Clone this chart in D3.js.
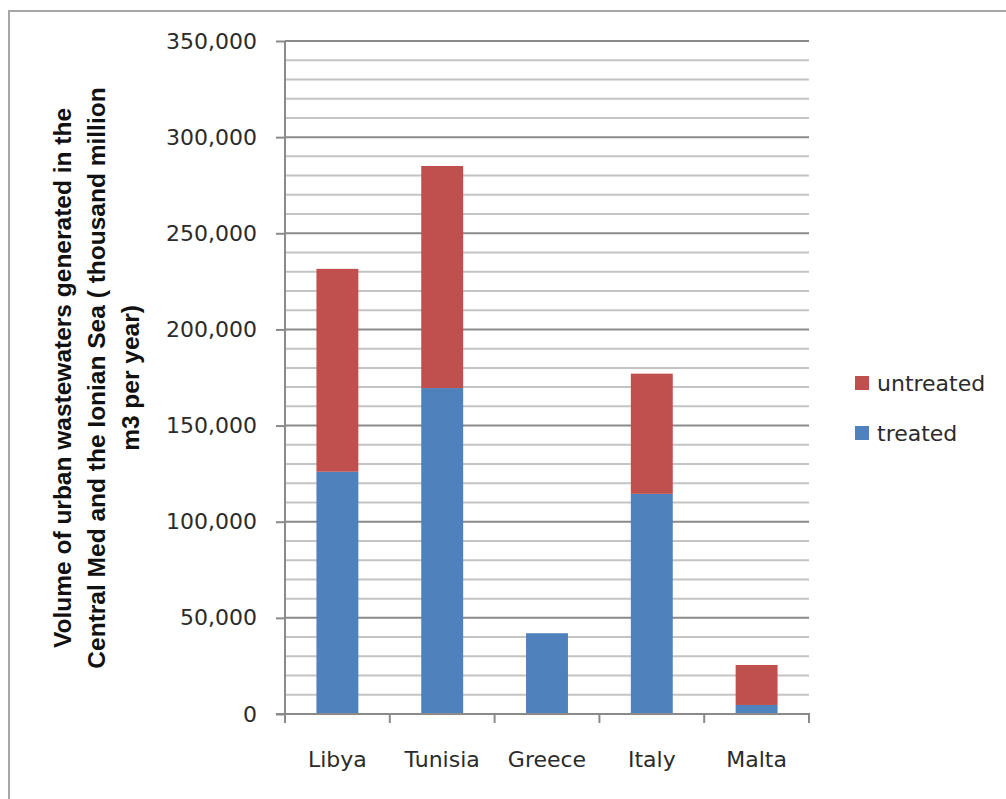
<!DOCTYPE html>
<html>
<head>
<meta charset="utf-8">
<script src="https://cdn.jsdelivr.net/npm/d3@7"></script>
<style>
  html, body { margin: 0; padding: 0; background: #fff; }
  svg { display: block; }
</style>
</head>
<body>
<svg id="chart" width="1006" height="799"></svg>
<script>
// Urban wastewater volumes by country (thousand million m3 per year)
const countries = ["Libya", "Tunisia", "Greece", "Italy", "Malta"];
const treated   = [126000, 169500, 42000, 114500, 4700];
const untreated = [105500, 115500, 0, 62500, 20800];
const seriesNames = ["treated", "untreated"];
const seriesColors = ["#4F81BD", "#C0504D"];
const yTicks = [0, 50000, 100000, 150000, 200000, 250000, 300000, 350000];
const titleLines = [
  "Volume of urban wastewaters generated in the",
  "Central Med and the Ionian Sea ( thousand million",
  "m3 per year)"
];

const svg = d3.select("#chart");
const font = "'DejaVu Sans', Verdana, sans-serif";
const labelSize = 22;

// outer chart frame
svg.append("rect")
  .attr("x", 9).attr("y", 11)
  .attr("width", 1200).attr("height", 1000)
  .attr("fill", "none").attr("stroke", "#a6a6a6").attr("stroke-width", 2);

const plot = { left: 285, right: 809, top: 41, bottom: 714 };

const y = d3.scaleLinear().domain([0, 350000]).range([plot.bottom, plot.top]);
const x = d3.scaleBand().domain(countries)
  .range([plot.left, plot.right]).paddingInner(0.6).paddingOuter(0.3);

// minor gridlines every 10,000
const minor = d3.range(10000, 350001, 10000).filter(v => v % 50000 !== 0);
svg.append("g").selectAll("line").data(minor).join("line")
  .attr("x1", plot.left).attr("x2", plot.right)
  .attr("y1", d => y(d)).attr("y2", d => y(d))
  .attr("stroke", "#c4c4c4").attr("stroke-width", 2);

// major gridlines with left ticks
const yAxis = d3.axisLeft(y).tickValues(yTicks)
  .tickFormat(d3.format(",")).tickSize(9).tickPadding(19);
const yg = svg.append("g").attr("transform", `translate(${plot.left},0)`).call(yAxis);
yg.select(".domain").remove();
yg.selectAll(".tick line").attr("stroke", "#8a8a8a").attr("stroke-width", 2);
yg.selectAll(".tick text")
  .attr("font-family", font).attr("font-size", labelSize).attr("fill", "#2b2b2b");
svg.append("g").selectAll("line").data(yTicks.filter(v => v > 0)).join("line")
  .attr("x1", plot.left).attr("x2", plot.right)
  .attr("y1", d => y(d)).attr("y2", d => y(d))
  .attr("stroke", "#8a8a8a").attr("stroke-width", 2);

// stacked bars
const rows = countries.map((c, i) => ({ country: c, treated: treated[i], untreated: untreated[i] }));
const stack = d3.stack().keys(seriesNames)(rows);
svg.append("g").selectAll("g").data(stack).join("g")
  .attr("fill", (d, i) => seriesColors[i])
  .selectAll("rect").data(d => d.filter(p => p[1] > p[0])).join("rect")
  .attr("x", d => x(d.data.country))
  .attr("width", x.bandwidth())
  .attr("y", d => y(d[1]))
  .attr("height", d => y(d[0]) - y(d[1]));

// vertical axis line
svg.append("line")
  .attr("x1", plot.left).attr("x2", plot.left)
  .attr("y1", plot.top).attr("y2", plot.bottom + 1)
  .attr("stroke", "#8a8a8a").attr("stroke-width", 2);

// category axis with ticks between categories
svg.append("line")
  .attr("x1", plot.left - 9).attr("x2", plot.right + 1)
  .attr("y1", plot.bottom).attr("y2", plot.bottom)
  .attr("stroke", "#8a8a8a").attr("stroke-width", 2);
const bounds = countries.map(c => x(c) - x.step() * x.paddingInner() / 2);
bounds.push(plot.right);
svg.append("g").selectAll("line").data(bounds).join("line")
  .attr("x1", d => d).attr("x2", d => d)
  .attr("y1", plot.bottom).attr("y2", plot.bottom + 9)
  .attr("stroke", "#8a8a8a").attr("stroke-width", 2);
svg.append("g").selectAll("text").data(countries).join("text")
  .attr("x", d => x(d) + x.bandwidth() / 2)
  .attr("y", 767)
  .attr("text-anchor", "middle")
  .attr("font-family", font).attr("font-size", labelSize).attr("fill", "#2b2b2b")
  .text(d => d);

// rotated axis title
const title = svg.append("text")
  .attr("transform", "translate(63,378) rotate(-90)")
  .attr("text-anchor", "middle")
  .attr("font-family", "'Liberation Sans', Arial, sans-serif")
  .attr("font-weight", "bold").attr("font-size", 24.5).attr("fill", "#111");
titleLines.forEach((t, i) => {
  title.append("tspan").attr("x", 0).attr("y", 8 + i * 34).text(t);
});

// legend (untreated listed first)
const legendItems = [
  { name: "untreated", color: seriesColors[1], y: 383 },
  { name: "treated", color: seriesColors[0], y: 433 }
];
const lg = svg.append("g").selectAll("g").data(legendItems).join("g");
lg.append("rect")
  .attr("x", 855).attr("y", d => d.y - 7)
  .attr("width", 14).attr("height", 14)
  .attr("fill", d => d.color);
lg.append("text")
  .attr("x", 877).attr("y", d => d.y + 8)
  .attr("font-family", font).attr("font-size", labelSize).attr("fill", "#2b2b2b")
  .text(d => d.name);
</script>
</body>
</html>
